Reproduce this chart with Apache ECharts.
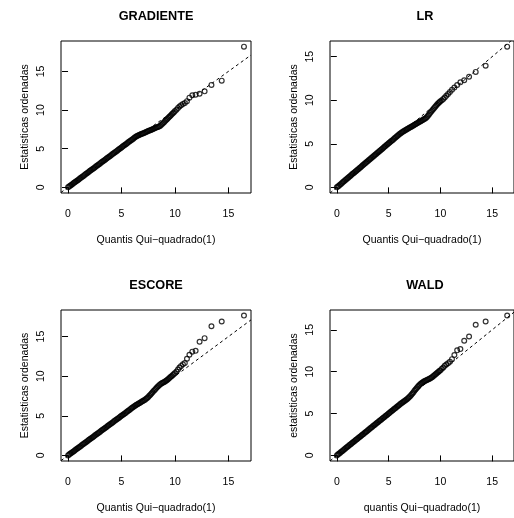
<!DOCTYPE html>
<html>
<head>
<meta charset="utf-8">
<script src="https://cdn.jsdelivr.net/npm/echarts@6/dist/echarts.min.js"></script>
<style>
  html, body { margin: 0; padding: 0; background: #fff; }
  #chart { width: 514px; height: 518px; }
</style>
</head>
<body>
<div id="chart"></div>
<script>
// Theoretical chi-square(1) quantiles (shared by all four panels)
const qx = [
  0.0,0.1,0.2,0.3,0.4,0.5,0.6,0.7,0.8,0.9,
  1.0,1.1,1.2,1.3,1.4,1.5,1.6,1.7,1.8,1.9,
  2.0,2.1,2.2,2.3,2.4,2.5,2.6,2.7,2.8,2.9,
  3.0,3.1,3.2,3.3,3.4,3.5,3.6,3.7,3.8,3.9,
  4.0,4.1,4.2,4.3,4.4,4.5,4.6,4.7,4.8,4.9,
  5.0,5.1,5.2,5.3,5.4,5.5,5.6,5.7,5.8,5.9,
  6.0,6.1,6.2,6.3,6.4,6.5,6.6,6.7,6.8,6.9,
  7.0,7.1,7.2,7.3,7.4,7.5,7.6,7.7,7.8,7.9,
  8.0,8.1,8.2,8.3,8.4,8.5,8.6,8.7,8.8,8.9,
  9.0,9.1,9.2,9.3,9.4,9.5,9.6,9.7,9.8,9.9,
  10.0,
  10.14,10.28,10.42,10.57,10.74,10.92,11.12,11.35,11.62,11.93,12.3,12.77,13.41,14.37,16.45
];

// Ordered statistics, one list per test
const yGradiente = [
  0.00,0.10,0.21,0.31,0.41,0.52,0.62,0.72,0.83,0.93,
  1.03,1.14,1.24,1.34,1.45,1.55,1.65,1.76,1.86,1.96,
  2.07,2.17,2.27,2.38,2.48,2.58,2.69,2.79,2.89,3.00,
  3.10,3.20,3.31,3.41,3.51,3.62,3.72,3.82,3.93,4.03,
  4.13,4.24,4.34,4.44,4.55,4.65,4.75,4.86,4.96,5.06,
  5.17,5.27,5.37,5.48,5.58,5.68,5.79,5.89,5.99,6.10,
  6.20,6.30,6.41,6.51,6.61,6.68,6.74,6.80,6.86,6.92,
  6.98,7.04,7.10,7.16,7.22,7.28,7.34,7.40,7.46,7.52,
  7.58,7.64,7.70,7.76,7.82,7.88,7.95,8.05,8.18,8.32,
  8.46,8.60,8.74,8.88,9.02,9.16,9.30,9.44,9.58,9.72,
  9.86,
  10.05,10.25,10.45,10.62,10.78,10.92,11.15,11.6,11.9,11.98,12.1,12.42,13.25,13.8,18.2
];
const yLR = [
  0.00,0.10,0.20,0.30,0.40,0.50,0.61,0.71,0.81,0.91,
  1.01,1.11,1.21,1.31,1.41,1.52,1.62,1.72,1.82,1.92,
  2.02,2.12,2.22,2.32,2.42,2.53,2.63,2.73,2.83,2.93,
  3.03,3.13,3.23,3.33,3.43,3.54,3.64,3.74,3.84,3.94,
  4.04,4.14,4.24,4.34,4.44,4.55,4.65,4.75,4.85,4.95,
  5.05,5.15,5.25,5.35,5.45,5.56,5.66,5.76,5.86,5.96,
  6.06,6.15,6.24,6.33,6.41,6.48,6.55,6.62,6.69,6.76,
  6.83,6.90,6.97,7.04,7.11,7.18,7.25,7.32,7.39,7.46,
  7.53,7.60,7.67,7.74,7.81,7.88,7.96,8.08,8.22,8.37,
  8.52,8.67,8.82,8.97,9.12,9.26,9.40,9.53,9.65,9.76,
  9.87,
  10.0,10.15,10.32,10.5,10.72,10.95,11.2,11.45,11.75,12.05,12.3,12.7,13.25,13.95,16.15
];
const yEscore = [
  0.00,0.10,0.20,0.30,0.40,0.50,0.60,0.70,0.80,0.90,
  1.00,1.10,1.20,1.30,1.40,1.50,1.60,1.70,1.80,1.90,
  2.00,2.10,2.20,2.30,2.40,2.50,2.60,2.70,2.80,2.90,
  3.00,3.10,3.20,3.30,3.40,3.50,3.60,3.70,3.80,3.90,
  4.00,4.10,4.20,4.30,4.40,4.50,4.60,4.70,4.80,4.90,
  5.00,5.10,5.20,5.30,5.40,5.50,5.60,5.70,5.81,5.91,
  6.02,6.11,6.20,6.29,6.38,6.47,6.55,6.63,6.71,6.79,
  6.87,6.95,7.04,7.14,7.25,7.38,7.52,7.67,7.82,7.97,
  8.12,8.27,8.42,8.57,8.71,8.84,8.96,9.06,9.14,9.21,
  9.28,9.36,9.45,9.56,9.68,9.80,9.92,10.04,10.16,10.28,
  10.40,
  10.6,10.85,11.1,11.3,11.5,11.65,12.2,12.7,13.1,13.2,14.35,14.8,16.3,16.9,17.65
];
const yWald = [
  0.00,0.10,0.20,0.30,0.40,0.50,0.60,0.70,0.80,0.90,
  1.00,1.10,1.20,1.30,1.40,1.50,1.60,1.70,1.80,1.90,
  2.00,2.10,2.20,2.30,2.40,2.50,2.60,2.70,2.80,2.90,
  3.00,3.10,3.20,3.30,3.40,3.50,3.60,3.70,3.80,3.90,
  4.00,4.10,4.20,4.30,4.40,4.50,4.60,4.70,4.80,4.90,
  5.00,5.10,5.20,5.30,5.40,5.50,5.60,5.70,5.80,5.90,
  6.00,6.10,6.20,6.29,6.38,6.47,6.56,6.65,6.75,6.86,
  6.98,7.11,7.25,7.40,7.55,7.71,7.87,8.03,8.18,8.32,
  8.45,8.56,8.66,8.75,8.83,8.90,8.96,9.02,9.08,9.14,
  9.20,9.27,9.35,9.44,9.54,9.65,9.76,9.87,9.97,10.07,
  10.17,
  10.35,10.5,10.7,10.85,11.0,11.2,11.5,12.0,12.55,12.7,13.7,14.2,15.6,16.0,16.7
];

const tickValues = [0, 5, 10, 15];
const titles = ['GRADIENTE', 'LR', 'ESCORE', 'WALD'];
const xNames = ['Quantis Qui\u2212quadrado(1)', 'Quantis Qui\u2212quadrado(1)', 'Quantis Qui\u2212quadrado(1)', 'quantis Qui\u2212quadrado(1)'];
const yNames = ['Estatisticas ordenadas', 'Estatisticas ordenadas', 'Estatisticas ordenadas', 'estatisticas ordenadas'];
const ySeries = [yGradiente, yLR, yEscore, yWald];

// Reference line y = a + b x
const refIntercept = 0;
const refSlope = 1;

const FONT = '"Liberation Sans", Arial, Helvetica, sans-serif';

// Panel boxes in pixels (2 x 2 layout)
const boxes = [
  { left: 61,  top: 41,  width: 190, height: 152 },
  { left: 330, top: 41,  width: 190, height: 152 },
  { left: 61,  top: 310, width: 190, height: 151 },
  { left: 330, top: 310, width: 190, height: 151 }
];

// R-style 4% range extension
function extRange(arr) {
  const lo = Math.min(...arr), hi = Math.max(...arr);
  const d = (hi - lo) * 0.04;
  return [lo - d, hi + d];
}

const xr = extRange(qx);
const grids = [], xAxes = [], yAxes = [], series = [], graphics = [];

boxes.forEach((b, i) => {
  const yr = extRange(ySeries[i]);
  grids.push({
    left: b.left, top: b.top, width: b.width, height: b.height,
    show: true, borderColor: '#000', borderWidth: 1, backgroundColor: 'transparent'
  });
  xAxes.push({
    type: 'value', gridIndex: i, min: xr[0], max: xr[1],
    axisLine: { show: false },
    axisTick: { show: true, inside: false, length: 6, customValues: tickValues, lineStyle: { color: '#000', width: 1 } },
    axisLabel: { customValues: tickValues, margin: 16, color: '#000', fontSize: 10.5, fontFamily: FONT },
    splitLine: { show: false },
    name: xNames[i], nameLocation: 'middle', nameGap: 42,
    nameTextStyle: { color: '#000', fontSize: 10.5, fontFamily: FONT }
  });
  yAxes.push({
    type: 'value', gridIndex: i, min: yr[0], max: yr[1],
    axisLine: { show: false },
    axisTick: { show: true, inside: false, length: 6, customValues: tickValues, lineStyle: { color: '#000', width: 1 } },
    axisLabel: { customValues: tickValues, rotate: 90, margin: 14, color: '#000', fontSize: 10.5, fontFamily: FONT },
    splitLine: { show: false },
    name: yNames[i], nameLocation: 'middle', nameGap: 30,
    nameTextStyle: { color: '#000', fontSize: 10.5, fontFamily: FONT }
  });
  series.push({
    type: 'scatter', xAxisIndex: i, yAxisIndex: i,
    data: qx.map((x, j) => [x, ySeries[i][j]]),
    symbol: 'circle', symbolSize: 4.8,
    itemStyle: { color: 'rgba(0,0,0,0)', borderColor: '#000', borderWidth: 1.2 },
    silent: true
  });
  series.push({
    type: 'line', xAxisIndex: i, yAxisIndex: i,
    data: [xr[0], xr[1]].map(x => [x, refIntercept + refSlope * x]),
    symbol: 'none', clip: true, silent: true,
    lineStyle: { color: '#000', width: 1, type: [3, 3] }
  });
  graphics.push({
    type: 'text',
    style: {
      text: titles[i],
      x: b.left + b.width / 2, y: b.top - 25,
      textAlign: 'center', textVerticalAlign: 'middle',
      font: 'bold 12.7px ' + FONT, fill: '#000'
    }
  });
});

const chart = echarts.init(document.getElementById('chart'), null, { renderer: 'canvas' });
chart.setOption({
  animation: false,
  backgroundColor: '#fff',
  grid: grids,
  xAxis: xAxes,
  yAxis: yAxes,
  series: series,
  graphic: graphics
});
</script>
</body>
</html>
